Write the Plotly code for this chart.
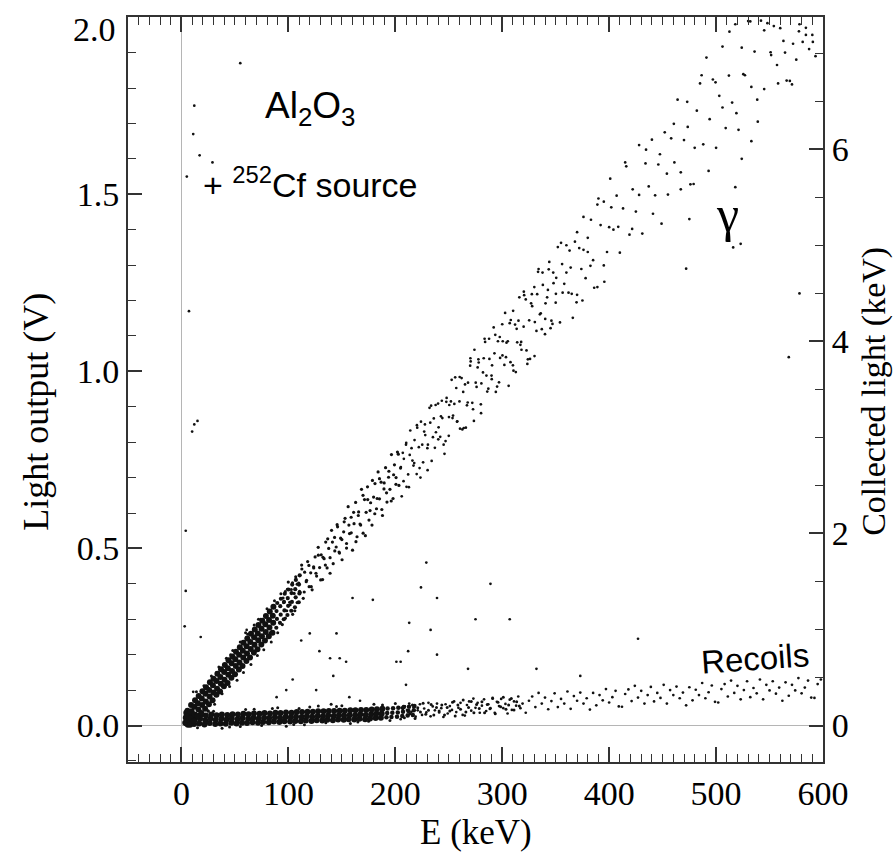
import plotly.graph_objects as go

# ---------------- data (E in keV, light output in V) ----------------
gamma_core_pts = [
    (4.6,0.006),(5.3,0.016),(4.9,0.028),(5.6,0.042),
    (8.1,0.002),(8.9,0.021),(8.4,0.039),(9.0,0.058),
    (11.6,0.013),(12.4,0.031),(12.1,0.053),(12.7,0.071),
    (15.2,0.026),(15.9,0.045),(15.4,0.063),(16.1,0.083),
    (18.6,0.035),(19.3,0.058),(19.0,0.076),(19.6,0.097),
    (22.1,0.047),(22.8,0.068),(22.4,0.090),(23.0,0.108),
    (25.7,0.060),(26.3,0.082),(25.9,0.100),(26.6,0.122),
    (29.1,0.071),(29.8,0.093),(29.4,0.114),(30.0,0.132),
    (32.7,0.087),(33.3,0.104),(32.9,0.126),(33.6,0.146),
    (36.1,0.096),(36.8,0.118),(36.4,0.137),(37.0,0.159),
    (39.7,0.111),(40.3,0.129),(39.9,0.151),(40.6,0.171),
    (43.1,0.120),(43.8,0.143),(43.4,0.162),(44.0,0.184),
    (46.7,0.135),(47.3,0.154),(46.9,0.176),(47.6,0.195),
    (50.1,0.145),(50.8,0.168),(50.4,0.187),(51.0,0.208),
    (53.7,0.158),(54.3,0.178),(53.9,0.200),(54.6,0.221),
    (57.1,0.168),(57.8,0.192),(57.4,0.211),(58.0,0.234),
    (60.7,0.182),(61.3,0.203),(60.9,0.224),(61.6,0.246),
    (64.1,0.192),(64.8,0.216),(64.4,0.236),(65.0,0.259),
    (67.7,0.206),(68.3,0.228),(67.9,0.249),(68.6,0.271),
    (71.1,0.215),(71.8,0.241),(71.4,0.260),(72.0,0.284),
    (74.7,0.229),(75.3,0.252),(74.9,0.273),(75.6,0.296),
    (78.1,0.240),(78.8,0.264),(78.4,0.286),(79.0,0.309),
    (81.7,0.252),(82.3,0.277),(81.9,0.298),(82.6,0.322),
    (85.1,0.262),(85.8,0.290),(85.4,0.310),(86.0,0.335),
]

gamma_fade_pts = [
    (88.7,0.276),(89.3,0.301),(88.9,0.323),(89.6,0.346),
    (92.1,0.290),(92.8,0.313),(92.4,0.337),(93.0,0.358),
    (95.7,0.300),(96.3,0.325),(95.9,0.349),(96.6,0.372),
    (99.1,0.312),(99.8,0.338),(99.4,0.360),(100.0,0.384),
    (102.7,0.324),(103.3,0.349),(102.9,0.374),(103.6,0.398),
    (106.1,0.334),(106.8,0.362),(106.4,0.385),(107.0,0.411),
    (109.7,0.348),(110.3,0.373),(109.9,0.398),(110.6,0.424),
]

gamma_edge_pts = [
    (14,0.095),(18,0.020),(21,0.112),(25,0.040),(28,0.140),(31,0.060),(35,0.165),
    (38,0.090),(42,0.190),(45,0.110),(48,0.212),(52,0.128),(55,0.236),(58,0.150),
    (62,0.258),(65,0.172),(68,0.284),(71,0.198),(74,0.300),(77,0.214),(80,0.330),
    (84,0.236),(87,0.352),(90,0.262),(93,0.372),(60,0.262),(72,0.300),(40,0.128),
    (33,0.150),(46,0.200),(57,0.170),(66,0.262),(83,0.262),(96,0.300),(99,0.385),
]

gamma_mid_pts = [
    (94.3,0.285),(95.6,0.347),(97.1,0.378),(98.4,0.324),(99.9,0.405),(101.2,0.348),
    (102.7,0.384),(104.0,0.314),(105.4,0.373),(106.9,0.420),(108.2,0.347),(109.7,0.402),
    (111.0,0.376),(112.4,0.453),(113.9,0.359),(115.2,0.433),(116.7,0.406),(118.0,0.463),
    (119.4,0.392),(120.9,0.431),(122.2,0.383),(123.7,0.445),(125.0,0.476),(126.4,0.422),
    (127.9,0.503),(129.2,0.446),(130.7,0.482),(132.0,0.412),(133.4,0.471),(134.9,0.518),
    (136.2,0.445),(137.7,0.500),(139.0,0.474),(140.4,0.551),(141.9,0.457),(143.2,0.531),
    (144.7,0.504),(146.0,0.561),(147.4,0.490),(148.9,0.529),(150.2,0.468),(151.7,0.547),
    (153.0,0.585),(154.4,0.514),(155.9,0.618),(157.2,0.542),(158.7,0.588),(160.0,0.495),
    (161.4,0.570),(162.9,0.630),(164.2,0.533),(165.7,0.603),(167.0,0.569),(168.4,0.667),
    (169.9,0.543),(171.2,0.638),(172.7,0.602),(174.0,0.674),(175.4,0.580),(176.9,0.629),
    (178.2,0.566),(179.7,0.645),(181.0,0.683),(182.4,0.612),(183.9,0.716),(185.2,0.640),
    (186.7,0.687),(188.0,0.593),(189.4,0.668),(190.9,0.728),(192.2,0.631),(193.7,0.701),
    (195.0,0.667),(196.4,0.765),(197.9,0.641),(199.2,0.736),(200.7,0.700),(202.0,0.772),
    (203.4,0.678),(204.9,0.727),
    (95.0,0.360),(97.2,0.303),(99.4,0.358),(101.6,0.341),(103.8,0.403),(106.0,0.324),
    (108.2,0.399),(110.4,0.379),(112.6,0.442),(114.8,0.377),(117.0,0.410),(119.2,0.452),
    (121.4,0.392),(123.6,0.448),(125.8,0.430),(128.0,0.481),(130.2,0.411),(132.4,0.475),
    (134.6,0.453),(136.8,0.527),(139.0,0.430),(141.2,0.518),(143.4,0.493),(145.6,0.567),
    (147.8,0.487),(150.0,0.525),(152.2,0.575),(154.4,0.501),(156.6,0.566),(158.8,0.544),
    (161.0,0.602),(163.2,0.519),(165.4,0.593),(167.6,0.566),(169.8,0.650),(172.0,0.536),
    (174.2,0.638),(176.4,0.607),(178.6,0.692),(180.8,0.598),(183.0,0.641),(185.2,0.697),
    (187.4,0.610),(189.6,0.685),(191.8,0.657),(194.0,0.718),(196.2,0.634),(198.4,0.708),
    (200.6,0.681),(202.8,0.766),
]

gamma_high_pts = [
    (206,0.647),(208,0.753),(210,0.793),(212,0.709),(214,0.833),(216,0.748),(218,0.806),
    (220,0.710),(222,0.786),(224,0.858),(226,0.743),(228,0.820),(230,0.783),(232,0.897),
    (234,0.747),(236,0.867),(238,0.828),(240,0.909),(242,0.815),(244,0.868),(246,0.767),
    (248,0.925),(250,0.818),(252,0.915),(254,0.875),(256,0.983),(258,0.859),(260,0.915),
    (262,0.981),(264,0.840),(266,0.841),(268,0.968),(270,1.016),(272,0.911),(274,1.061),
    (276,0.956),(278,1.025),(280,0.907),(282,0.997),(284,1.083),(286,0.943),(288,1.035),
    (290,0.988),(292,1.124),(294,0.942),(296,1.085),(298,1.038),(300,1.133),(302,1.018),
    (304,1.081),(306,0.959),(308,1.145),(310,1.017),(312,1.132),(314,1.082),(316,1.209),
    (318,1.061),(320,1.126),(322,1.203),(324,1.034),(326,1.035),(328,1.184),(330,1.238),
    (332,1.114),(334,1.289),(336,1.164),(338,1.244),(340,1.105),(342,1.209),(344,1.309),
    (346,1.143),(348,1.249),(350,1.194),(352,1.351),(354,1.138),(356,1.303),(358,1.247),
    (360,1.356),(362,1.222),(364,1.293),(366,1.151),(368,1.366),(370,1.216),(372,1.348),
    (374,1.289),(376,1.436),(378,1.263),(380,1.337),(383,1.428),(386,1.236),(389,1.238),
    (392,1.413),(395,1.479),(398,1.337),(401,1.544),(404,1.400),(407,1.496),(410,1.335),
    (413,1.460),(416,1.579),(419,1.386),(422,1.514),(425,1.451),(428,1.639),(431,1.389),
    (434,1.587),(437,1.522),(440,1.654),(443,1.497),(446,1.584),(449,1.417),(452,1.675),
    (455,1.499),(458,1.658),(461,1.590),(464,1.767),(467,1.562),(470,1.653),(473,1.761),
    (476,1.528),(479,1.529),(482,1.736),(485,1.813),(488,1.641),(491,1.886),(494,1.712),
    (497,1.824),(500,1.631),(503,1.778),(506,1.917),(509,1.687),(512,1.835),(515,1.759),
    (518,1.980),(521,1.682),(524,1.914),(527,1.836),(530,1.989),(533,1.803),(536,1.903),
    (539,1.705),(542,1.990),(545,1.797),(548,1.983),(551,1.901),(554,1.975),(557,1.865),
    (560,1.969),(563,1.933),(566,1.821),(569,1.820),(572,1.925),(575,1.880),(578,1.980),
    (581,1.930),(584,1.970),(587,1.910),(590,1.950),(593,1.890),
    (207,0.770),(210.5,0.674),(213.5,0.764),(217,0.734),(220.5,0.841),(223.5,0.700),
    (227,0.830),(230.5,0.793),(233.5,0.903),(237,0.784),(240.5,0.842),(243.5,0.917),
    (247,0.803),(250.5,0.905),(253.5,0.868),(257,0.953),(260.5,0.838),(263.5,0.942),
    (267,0.904),(270.5,1.028),(273.5,0.860),(277,1.011),(280.5,0.966),(283.5,1.092),
    (287,0.951),(290.5,1.017),(293.5,1.103),(297,0.969),(300.5,1.085),(303.5,1.040),
    (307,1.136),(310.5,1.002),(313.5,1.120),(317,1.075),(320.5,1.215),(323.5,1.021),
    (327,1.192),(330.5,1.139),(333.5,1.281),(337,1.119),(340.5,1.192),(343.5,1.288),
    (347,1.134),(350.5,1.264),(356.5,1.222),(363,1.341),(369.5,1.195),(376,1.343),
    (382.5,1.298),(389,1.471),(395.5,1.253),(402,1.463),(408.5,1.408),(415,1.590),
    (421.5,1.402),(428,1.498),(434.5,1.626),(441,1.445),(447.5,1.613),(454,1.558),
    (460.5,1.699),(467,1.514),(473.5,1.690),(480,1.631),(486.5,1.836),(493,1.566),
    (499.5,1.816),(506,1.745),(512.5,1.959),(519,1.729),(525.5,1.839),(532,1.988),
    (538.5,1.767),(545,1.963),(551.5,1.893),(558,1.813),(564.5,1.900),(571,1.810),
    (577.5,1.960),(584,1.950),(590.5,1.930),
    (205.2,0.730),(207.7,0.690),(210.2,0.798),(212.7,0.673),(215.2,0.783),(217.7,0.741),
    (220.2,0.848),(222.7,0.727),(225.2,0.793),(227.7,0.850),(230.2,0.721),(232.7,0.855),
    (235.2,0.814),(237.7,0.905),(240.2,0.808),(242.7,0.873),(245.2,0.793),(247.7,0.914),
    (250.2,0.871),(252.7,0.976),(255.2,0.908),(257.7,0.858),(260.2,0.984),(262.7,0.836),
    (265.2,0.963),(267.7,0.912),(270.2,1.037),(272.7,0.893),(275.2,0.968),(277.7,1.034),
    (280.2,0.882),(282.7,1.037),(285.2,0.988),(287.7,1.092),(290.2,0.978),(292.7,1.051),
    (295.2,0.957),(297.7,1.097),(300.2,1.045),(302.7,1.165),(305.2,1.085),(307.7,1.026),
    (310.2,1.171),(312.7,0.998),(315.2,1.143),(317.7,1.083),(320.2,1.225),(322.7,1.059),
    (325.2,1.144),(327.7,1.218),(330.2,1.043),(332.7,1.218),(335.2,1.161),(337.7,1.279),
    (340.2,1.148),(342.7,1.230),(345.2,1.122),(347.7,1.279),(350.2,1.219),(355,1.363),
    (360,1.279),(365,1.219),(370,1.393),(375,1.200),(380,1.377),(385,1.314),(390,1.488),
    (395,1.299),(400,1.407),
]

recoil_core_pts = [
    (3.5,0.008),(4.0,0.022),(4.5,0.036),(6.0,0.002),(6.5,0.016),(7.0,0.030),
    (8.5,0.010),(9.0,0.024),(9.5,0.040),
    (11.8,0.004),(12.5,0.017),(13.0,0.029),(16.6,0.006),(17.4,0.019),(17.9,0.030),
    (21.5,0.003),(22.3,0.015),(22.8,0.028),(26.4,0.007),(27.2,0.020),(27.9,0.031),
    (31.6,0.004),(32.1,0.016),(32.9,0.029),(36.5,0.006),(37.3,0.019),(37.8,0.031),
    (41.4,0.005),(42.2,0.017),(42.9,0.030),(46.7,0.008),(47.1,0.020),(47.8,0.032),
    (51.5,0.006),(52.4,0.018),(52.8,0.031),(56.6,0.008),(57.2,0.021),(57.9,0.033),
    (61.3,0.007),(62.4,0.019),(62.7,0.032),(66.5,0.009),(67.3,0.022),(67.8,0.034),
    (71.6,0.008),(72.2,0.020),(72.9,0.033),(76.4,0.010),(77.3,0.022),(77.7,0.035),
    (81.7,0.009),(82.1,0.021),(82.8,0.034),(86.5,0.011),(87.4,0.023),(87.9,0.036),
    (91.6,0.010),(92.2,0.022),(92.7,0.035),(96.3,0.012),(97.4,0.024),(97.8,0.037),
    (101.6,0.011),(102.3,0.023),(102.9,0.036),(106.5,0.013),(107.2,0.025),(107.8,0.038),
    (111.7,0.012),(112.4,0.024),(112.8,0.038),(116.4,0.014),(117.3,0.026),(117.9,0.039),
    (121.6,0.013),(122.2,0.025),(122.9,0.039),(126.5,0.015),(127.4,0.027),(127.8,0.040),
    (131.7,0.014),(132.3,0.026),(132.9,0.040),(136.4,0.016),(137.2,0.028),(137.8,0.041),
    (141.6,0.015),(142.4,0.027),(142.8,0.041),(146.5,0.017),(147.3,0.029),(147.9,0.042),
    (151.7,0.016),(152.1,0.028),(152.8,0.042),(156.4,0.018),(157.3,0.030),(157.9,0.043),
    (161.6,0.017),(162.4,0.029),(162.7,0.043),(166.5,0.019),(167.2,0.031),(167.9,0.044),
    (171.7,0.018),(172.3,0.030),(172.8,0.044),(176.4,0.020),(177.4,0.032),(177.9,0.045),
    (181.6,0.021),(182.2,0.033),(182.8,0.046),(186.5,0.022),(187.3,0.034),(187.9,0.047),
]

recoil_fade_pts = [
    (191.7,0.023),(192.4,0.035),(192.8,0.048),(196.4,0.024),(197.2,0.036),(197.9,0.049),
    (201.6,0.025),(202.3,0.037),(202.8,0.050),(206.5,0.027),(207.2,0.039),(207.9,0.052),
    (211.6,0.028),(212.3,0.041),(212.8,0.053),(216.4,0.030),(217.3,0.043),(217.9,0.055),
]

recoil_edge_pts = [
    (15,-0.006),(30,0.040),(45,-0.004),(60,0.045),(75,0.000),(90,0.050),(105,0.003),
    (120,0.052),(135,0.008),(150,0.056),(165,0.010),(180,0.060),(195,0.014),(25,0.042),
    (55,-0.003),(85,0.048),(115,0.002),(145,0.054),(175,0.012),(200,0.062),(140,0.060),
    (38,-0.008),(68,0.046),(98,-0.002),(128,0.055),(158,0.006),(188,0.058),(110,0.048),
    (206,0.050),(208.5,0.022),(211,0.044),(213.5,0.033),(216,0.058),(218.5,0.020),
    (221,0.050),(223.5,0.038),(226,0.063),(228.5,0.032),(231,0.043),(233.5,0.059),
    (236,0.030),(238.5,0.051),(241,0.041),(243.5,0.058),(246,0.030),(248.5,0.051),
    (251,0.041),(253.5,0.066),(256,0.027),(258.5,0.058),(261,0.046),(263.5,0.072),
    (266,0.038),(268.5,0.051),(271,0.068),(273.5,0.036),(276,0.059),(278.5,0.048),
    (281,0.067),(283.5,0.036),(286,0.059),(288.5,0.047),(291,0.076),(293.5,0.033),
    (296,0.066),(298.5,0.053),(301,0.080),(303.5,0.046),(306,0.058),(308.5,0.076),
    (311,0.044),(313.5,0.067),(316,0.055),
]

recoil_high_pts = [
    (205,0.018),(207,0.045),(209,0.054),(211,0.030),(213,0.062),(215,0.038),(217,0.051),
    (219,0.025),(221,0.043),(223,0.060),(225,0.030),(227,0.048),(229,0.037),(231,0.064),
    (233,0.026),(235,0.054),(237,0.043),(239,0.062),(241,0.037),(243,0.049),(245,0.024),
    (247,0.060),(249,0.034),(251,0.055),(253,0.044),(255,0.068),(257,0.038),(259,0.050),
    (261,0.064),(263,0.030),(265,0.028),(267,0.058),(269,0.068),(271,0.042),(273,0.076),
    (275,0.050),(277,0.064),(279,0.036),(281,0.056),(283,0.074),(285,0.041),(287,0.060),
    (289,0.049),(291,0.078),(293,0.036),(295,0.067),(297,0.055),(299,0.075),(301,0.049),
    (303,0.061),(305,0.034),(307,0.073),(309,0.044),(311,0.068),(313,0.056),(315,0.082),
    (317,0.049),(319,0.062),
    (322,0.036),(325,0.070),(328,0.082),(331,0.052),(334,0.092),(337,0.062),(340,0.079),
    (343,0.046),(346,0.069),(349,0.091),(352,0.052),(355,0.075),(358,0.062),(361,0.096),
    (364,0.047),(367,0.083),(370,0.070),(373,0.093),(376,0.062),(379,0.077),(382,0.045),
    (385,0.092),(388,0.057),(391,0.086),(394,0.071),(397,0.103),(400,0.065),(403,0.080),
    (406,0.098),(409,0.054),(412,0.053),(415,0.089),(418,0.102),(421,0.069),(424,0.112),
    (427,0.079),(430,0.098),(433,0.062),(436,0.086),(439,0.109),(442,0.068),(445,0.092),
    (448,0.078),(451,0.115),(454,0.062),(457,0.100),(460,0.086),(463,0.110),(466,0.077),
    (469,0.093),(472,0.057),(475,0.108),(478,0.071),(481,0.101),(484,0.086),(487,0.120),
    (490,0.077),(493,0.094),(496,0.113),(499,0.067),(502,0.065),(505,0.103),(508,0.117),
    (511,0.082),(514,0.127),(517,0.092),(520,0.112),(523,0.074),(526,0.100),(529,0.125),
    (532,0.080),(535,0.106),(538,0.091),(541,0.130),(544,0.074),(547,0.115),(550,0.099),
    (553,0.125),(556,0.090),(559,0.107),(562,0.070),(565,0.122),(568,0.084),(571,0.115),
    (574,0.099),(577,0.134),(580,0.091),(583,0.107),(586,0.127),(589,0.079),(592,0.078),
    (595,0.117),(598,0.130),
]

stray_pts = [
    (12,1.75),(11,1.67),(5,1.55),(17,1.61),(29,1.59),(55,1.87),(7,1.17),(12,0.85),
    (15,0.86),(10,0.83),(4,0.55),(4,0.38),(3,0.28),(18,0.25),(11,0.095),(61,0.27),
    (89,0.08),(98,0.10),(104,0.13),(112,0.24),(120,0.26),(129,0.21),(139,0.19),
    (145,0.26),(148,0.19),(154,0.18),(160,0.36),(126,0.10),(142,0.14),(157,0.08),
    (167,0.07),(179,0.355),(201,0.18),(205,0.18),(210,0.115),(212,0.21),(213,0.29),
    (224,0.39),(289,0.40),(239,0.36),(229,0.46),(275,0.30),(307,0.30),(233,0.27),
    (239,0.20),(332,0.16),(268,0.16),(427,0.245),(373,0.14),(533,1.65),(524,1.60),
    (518,1.52),(516,1.35),(472,1.29),(475,1.43),(523,1.36),(578,1.22),(568,1.04),
]

x_ticks = [0, 100, 200, 300, 400, 500, 600]
y_ticks = [0.0, 0.5, 1.0, 1.5]      # the top label "2.0" is placed as text at the frame corner
y2_ticks = [0, 2, 4, 6]
V_PER_KEV = 0.2711  # right-axis scale: collected light (keV) vs light output (V)

# ---------------- figure ----------------
SERIF = "Liberation Serif, Times New Roman, serif"
SANS = "Liberation Sans, Arial, sans-serif"

def split(pts):
    return [p[0] for p in pts], [p[1] for p in pts]

fig = go.Figure()
for pts, size in [(recoil_high_pts, 2.7), (gamma_high_pts, 2.7), (stray_pts, 2.7),
                  (gamma_mid_pts, 3.2), (gamma_edge_pts, 3.0), (recoil_edge_pts, 3.0),
                  (gamma_fade_pts, 4.2), (recoil_fade_pts, 4.5),
                  (recoil_core_pts, 6.0), (gamma_core_pts, 6.0)]:
    xs, ys = split(pts)
    fig.add_trace(go.Scatter(x=xs, y=ys, mode="markers", showlegend=False,
                             marker=dict(size=size, color="#111111", line=dict(width=0)),
                             hoverinfo="skip"))

# invisible trace to activate the right axis
fig.add_trace(go.Scatter(x=[None], y=[None], yaxis="y2", showlegend=False))

ymin, ymax = -0.103, 2.0005
axis_line = dict(showline=True, linecolor="#333333", linewidth=1.8, ticks="inside",
                 tickcolor="#333333", tickwidth=1.6, showgrid=False,
                 tickfont=dict(family=SERIF, size=34, color="black"))

fig.update_layout(
    width=894, height=854,
    margin=dict(l=128, r=71, t=17, b=92),
    paper_bgcolor="white", plot_bgcolor="white",
    xaxis=dict(**axis_line, range=[-50, 600], tickvals=x_ticks, ticklen=15, mirror="ticks",
               minor=dict(ticks="inside", dtick=10, tick0=0, ticklen=8, tickwidth=1.4,
                          tickcolor="#333333", showgrid=False),
               zeroline=True, zerolinecolor="#b5b5b5", zerolinewidth=1.2),
    yaxis=dict(**axis_line, range=[ymin, ymax], tickvals=y_ticks, tickformat=".1f",
               ticklen=14, mirror=False,
               minor=dict(ticks="inside", dtick=0.1, tick0=0, ticklen=8, tickwidth=1.4,
                          tickcolor="#333333", showgrid=False),
               zeroline=True, zerolinecolor="#b5b5b5", zerolinewidth=1.2),
    yaxis2=dict(**axis_line, overlaying="y", side="right",
                range=[ymin / V_PER_KEV, ymax / V_PER_KEV], tickvals=y2_ticks, ticklen=14,
                minor=dict(ticks="inside", dtick=0.5, tick0=0, ticklen=8, tickwidth=1.4,
                           tickcolor="#333333", showgrid=False),
                zeroline=False),
)

ann = [
    dict(text="2.0", x=-0.0144, y=0.983, xanchor="right", font=dict(family=SERIF, size=34)),
    dict(text="E (keV)", x=0.5, y=-0.095, font=dict(family=SERIF, size=35)),
    dict(text="Light output (V)", x=-0.1324, y=0.47, textangle=-90,
         font=dict(family=SERIF, size=36)),
    dict(text="Collected light (keV)", x=1.0735, y=0.497, textangle=-90,
         font=dict(family=SERIF, size=34)),
    dict(text="Al<sub>2</sub>O<sub>3</sub>", x=0.263, y=0.878, font=dict(family=SANS, size=37)),
    dict(text="+ <sup>252</sup>Cf source", x=0.262, y=0.778, font=dict(family=SANS, size=34)),
    dict(text="γ", x=0.863, y=0.735, font=dict(family=SERIF, size=50)),
    dict(text="Recoils", x=0.902, y=0.139, textangle=-4, font=dict(family=SANS, size=33)),
]
for a in ann:
    a.setdefault("font", {})["color"] = "black"
    a.setdefault("xanchor", "center")
    fig.add_annotation(xref="paper", yref="paper", showarrow=False, yanchor="middle", **a)

fig.write_html("out.html", config={"displayModeBar": False},
               post_script="document.body.style.margin='0';document.body.style.overflow='hidden';")
